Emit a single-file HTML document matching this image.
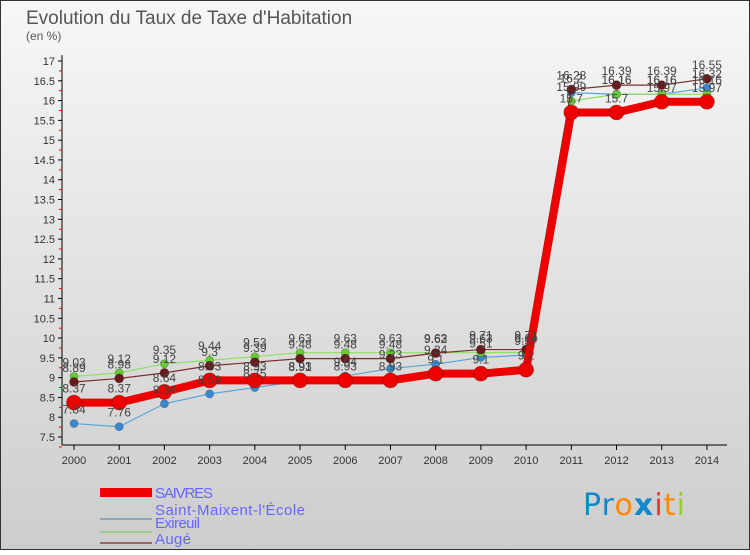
<!DOCTYPE html>
<html><head><meta charset="utf-8"><style>
html,body{margin:0;padding:0;}
body{width:750px;height:550px;overflow:hidden;font-family:"Liberation Sans",sans-serif;}
</style></head><body>
<svg id="chart" width="750" height="550" xmlns="http://www.w3.org/2000/svg">
<defs><linearGradient id="bg" x1="0" y1="0" x2="0" y2="1"><stop offset="0" stop-color="#f7f7f7"/><stop offset="1" stop-color="#cdcdcd"/></linearGradient></defs>
<rect x="0.5" y="0.5" width="749" height="549" fill="url(#bg)" stroke="#333"/>
<text x="26" y="24" font-size="19" fill="#555">Evolution du Taux de Taxe d'Habitation</text>
<text x="26" y="40" font-size="12" fill="#555">(en %)</text>
<g id="axes"></g><g id="series"></g><g id="labels"></g>
<g>
<rect x="100" y="488" width="52" height="9" fill="#e00"/>
<text x="155" y="498" font-size="15" fill="#66f" textLength="58">SAIVRES</text>
<rect x="100" y="518" width="52" height="2" fill="#8ab"/>
<text x="155" y="515" font-size="15" fill="#66f" textLength="150">Saint-Maixent-l'École</text>
<rect x="100" y="531" width="52" height="2" fill="#9c8"/>
<text x="155" y="528" font-size="15" fill="#66f" textLength="45">Exireuil</text>
<rect x="100" y="542" width="52" height="2" fill="#966"/>
<text x="155" y="544" font-size="15" fill="#66f" textLength="36">Augé</text>
</g>
<g font-size="30" font-family="'DejaVu Sans',sans-serif">
<text x="583" y="515" textLength="102"><tspan fill="#18c">Pr</tspan><tspan fill="#f80">o</tspan><tspan fill="#18c" font-weight="bold">x</tspan><tspan fill="#e33">i</tspan><tspan fill="#f80">t</tspan><tspan fill="#9c3">i</tspan></text>
</g>
</svg>
<script>
const years=[2000,2001,2002,2003,2004,2005,2006,2007,2008,2009,2010,2011,2012,2013,2014];
const saivres=[8.37,8.37,8.64,8.93,8.93,8.93,8.93,8.93,9.1,9.1,9.2,15.7,15.7,15.97,15.97];
const saintMaixent=[7.84,7.76,8.34,8.59,8.75,8.91,9.04,9.23,9.34,9.51,9.57,16.2,16.16,16.16,16.32];
const exireuil=[9.03,9.12,9.35,9.44,9.53,9.63,9.63,9.63,9.63,9.63,9.64,15.99,16.16,16.16,16.16];
const auge=[8.89,8.98,9.12,9.3,9.39,9.48,9.48,9.48,9.62,9.71,9.71,16.28,16.39,16.39,16.55];
const yTicks=[7.5,8,8.5,9,9.5,10,10.5,11,11.5,12,12.5,13,13.5,14,14.5,15,15.5,16,16.5,17];
const NS="http://www.w3.org/2000/svg";
const X=i=>74+i*45.21, Y=v=>61+(17-v)*39.58;
function mk(p,t,a){const e=document.createElementNS(NS,t);for(const k in a)e.setAttribute(k,a[k]);p.appendChild(e);return e;}
const axes=document.getElementById('axes');
const xl=mk(axes,'line',{x1:62,y1:445,x2:727,y2:445,stroke:'#000'});


const yl=mk(axes,'line',{x1:62,y1:55,x2:62,y2:445,stroke:'#000'});


yTicks.forEach(v=>{
 mk(axes,'line',{x1:58,y1:Y(v),x2:62,y2:Y(v),stroke:'#000'});
 mk(axes,'line',{x1:59,y1:Y(v)+9.9,x2:62,y2:Y(v)+9.9,stroke:'#e00'});
 const t=mk(axes,'text',{x:55,y:Y(v)+4,'text-anchor':'end','font-size':11,fill:'#333'});
 t.textContent=String(v);
 
 
});
years.forEach((yr,i)=>{
 mk(axes,'line',{x1:X(i),y1:445,x2:X(i),y2:450,stroke:'#000'});
 const t=mk(axes,'text',{x:X(i),y:464,'text-anchor':'middle','font-size':11,fill:'#333'});
 t.textContent=yr;
 
 
});
const ser=document.getElementById('series'),lab=document.getElementById('labels');
function draw(name,vals,col,dot,w,r,dy){
 const g=mk(ser,'g',{});
 
 
 const pl=mk(g,'polyline',{points:vals.map((v,i)=>X(i)+','+Y(v)).join(' '),fill:'none',stroke:col,'stroke-width':w});
 
 
 vals.forEach((v,i)=>{
  const c=mk(g,'circle',{cx:X(i),cy:Y(v),r:r,fill:dot,stroke:'rgba(0,0,0,0.3)','stroke-width':0.7});
  
  
  const t=mk(lab,'text',{x:X(i),y:Y(v)+dy,'text-anchor':'middle','font-size':12,fill:'#444'});
  t.textContent=String(v);
  
  
 });
}
draw('saint-maixent',saintMaixent,'#59a5d8','#3a8ad0',1.2,4,-10);
draw('exireuil',exireuil,'#8ee060','#66cc33',1.2,4,-10);
draw('auge',auge,'#7a2e2e','#6a1a1a',1.2,4.5,-10);
draw('saivres',saivres,'#ee0000','#ee0000',8,7.5,-10);
</script>
</body></html>
